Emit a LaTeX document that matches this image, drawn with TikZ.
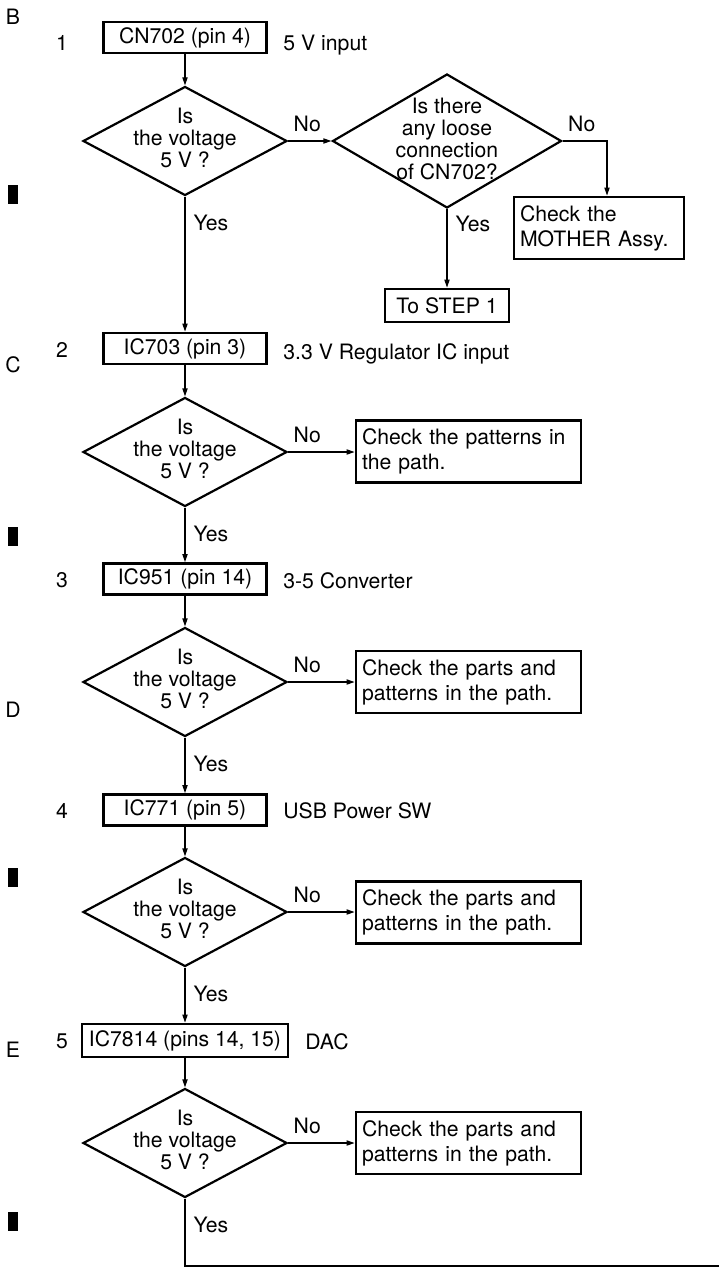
\documentclass[tikz,border=0pt]{standalone}
\usepackage{fontspec}
\setmainfont{TeX Gyre Heros}
\usetikzlibrary{shapes.geometric, arrows.meta, positioning}

\begin{document}
\begin{tikzpicture}[
    x=0.5pt, y=-0.5pt,
    font=\fontsize{10.6}{11}\selectfont,
    % Style definitions
    stepbox/.style={draw, line width=1.4pt, inner sep=0pt, minimum width=81.5pt, minimum height=15.5pt},
    decision/.style={draw, diamond, line width=1.1pt, inner sep=0pt, minimum width=102pt, minimum height=54.5pt},
    qtext/.style={align=center, inner sep=0pt, yshift=1.5pt, font=\fontsize{10.6}{11}\selectfont},
    checkbox/.style={draw, line width=1.4pt, align=left, inner xsep=3pt, inner ysep=0pt, text width=106.5pt, minimum height=31pt, font=\fontsize{10.6}{12.5}\selectfont},
    tag/.style={inner sep=0pt, anchor=base west},
    numtag/.style={inner sep=0pt, anchor=base},
    nolabel/.style={pos=0, anchor=south west, inner sep=0pt, xshift=2.5pt, yshift=4.5pt},
    yeslabel/.style={pos=0, anchor=north west, inner sep=0pt, xshift=4pt, yshift=-9pt},
    flow/.style={draw, -{Triangle[length=4pt,width=2.6pt]}, line width=0.6pt},
    link/.style={draw, line width=0.6pt}
]
    \useasboundingbox (0,0) rectangle (719,1269);

    % === MARGIN: zone letters and marks ===
    \node (zone_b) [numtag] at (13,25) {B};
    \node (zone_c) [numtag] at (13,372) {C};
    \node (zone_d) [numtag] at (13,717) {D};
    \node (zone_e) [numtag] at (13,1057) {E};
    \foreach \y in {185,527,868,1212}
        \fill (8,\y) rectangle ++(10,19);

    % === STEP 1 ===
    \node (num_1) [numtag] at (62,50) {1};
    \node (box_1) [stepbox] at (185,37.5) {CN702 (pin 4)};
    \node (note_1) [tag] at (283,50) {5 V input};
    \node (dec_1) [decision] at (185,141) {};
    \node (q_1) [qtext] at (dec_1) {Is\\the voltage\\5 V ?};

    \node (dec_loose) [decision, minimum width=114.5pt, minimum height=67pt] at (447,141) {};
    \node (q_loose) [qtext, yshift=-0.5pt] at (dec_loose) {Is there\\any loose\\connection\\of CN702?};
    \node (chk_mother) [checkbox, text width=79pt] at (599,228) {Check the\\MOTHER Assy.};
    \node (to_step1) [stepbox, minimum width=62pt, minimum height=16.5pt] at (447,305.5) {To STEP 1};

    \path [flow] (box_1) -- (dec_1);
    \path [flow] (dec_1.east) -- node[nolabel] {No} (dec_loose.west);
    \path [flow] (dec_loose.east) -| node[nolabel] {No} ([xshift=4pt]chk_mother.north);
    \path [flow] (dec_loose) -- node[yeslabel, yshift=6pt] {Yes} (to_step1);

    % === STEP 2 ===
    \node (num_2) [numtag] at (62,357) {2};
    \node (box_2) [stepbox] at (185,348.5) {IC703 (pin 3)};
    \node (note_2) [tag] at (283,359) {3.3 V Regulator IC input};
    \node (dec_2) [decision] at (185,452) {};
    \node (q_2) [qtext] at (dec_2) {Is\\the voltage\\5 V ?};
    \node (chk_2) [checkbox] at (468.5,451.5) {Check the patterns in\\the path.};

    \path [flow] (dec_1) -- node[yeslabel] {Yes} (box_2);
    \path [flow] (box_2) -- (dec_2);
    \path [flow] (dec_2.east) -- node[nolabel] {No} (dec_2.east -| chk_2.west);

    % === STEP 3 ===
    \node (num_3) [numtag] at (62,587) {3};
    \node (box_3) [stepbox] at (185,579) {IC951 (pin 14)};
    \node (note_3) [tag] at (283,588) {3-5 Converter};
    \node (dec_3) [decision] at (185,682) {};
    \node (q_3) [qtext] at (dec_3) {Is\\the voltage\\5 V ?};
    \node (chk_3) [checkbox] at (468.5,682) {Check the parts and\\patterns in the path.};

    \path [flow] (dec_2) -- node[yeslabel] {Yes} (box_3);
    \path [flow] (box_3) -- (dec_3);
    \path [flow] (dec_3.east) -- node[nolabel] {No} (dec_3.east -| chk_3.west);

    % === STEP 4 ===
    \node (num_4) [numtag] at (62,818) {4};
    \node (box_4) [stepbox] at (185,810) {IC771 (pin 5)};
    \node (note_4) [tag] at (283,818) {USB Power SW};
    \node (dec_4) [decision] at (185,912) {};
    \node (q_4) [qtext] at (dec_4) {Is\\the voltage\\5 V ?};
    \node (chk_4) [checkbox] at (468.5,912.5) {Check the parts and\\patterns in the path.};

    \path [flow] (dec_3) -- node[yeslabel] {Yes} (box_4);
    \path [flow] (box_4) -- (dec_4);
    \path [flow] (dec_4.east) -- node[nolabel] {No} (dec_4.east -| chk_4.west);

    % === STEP 5 ===
    \node (num_5) [numtag] at (62,1048) {5};
    \node (box_5) [stepbox, minimum width=103pt, minimum height=16.5pt] at (185,1040.5) {IC7814 (pins 14, 15)};
    \node (note_5) [tag] at (305,1049) {DAC};
    \node (dec_5) [decision] at (185,1143) {};
    \node (q_5) [qtext] at (dec_5) {Is\\the voltage\\5 V ?};
    \node (chk_5) [checkbox] at (468.5,1143) {Check the parts and\\patterns in the path.};
    \coordinate (exit_r) at (719,1266);

    \path [flow] (dec_4) -- node[yeslabel] {Yes} (box_5);
    \path [flow] (box_5) -- (dec_5);
    \path [flow] (dec_5.east) -- node[nolabel] {No} (dec_5.east -| chk_5.west);
    \path [link] (dec_5) -- node[yeslabel] {Yes} (dec_5 |- exit_r) -- (exit_r);

\end{tikzpicture}
\end{document}
